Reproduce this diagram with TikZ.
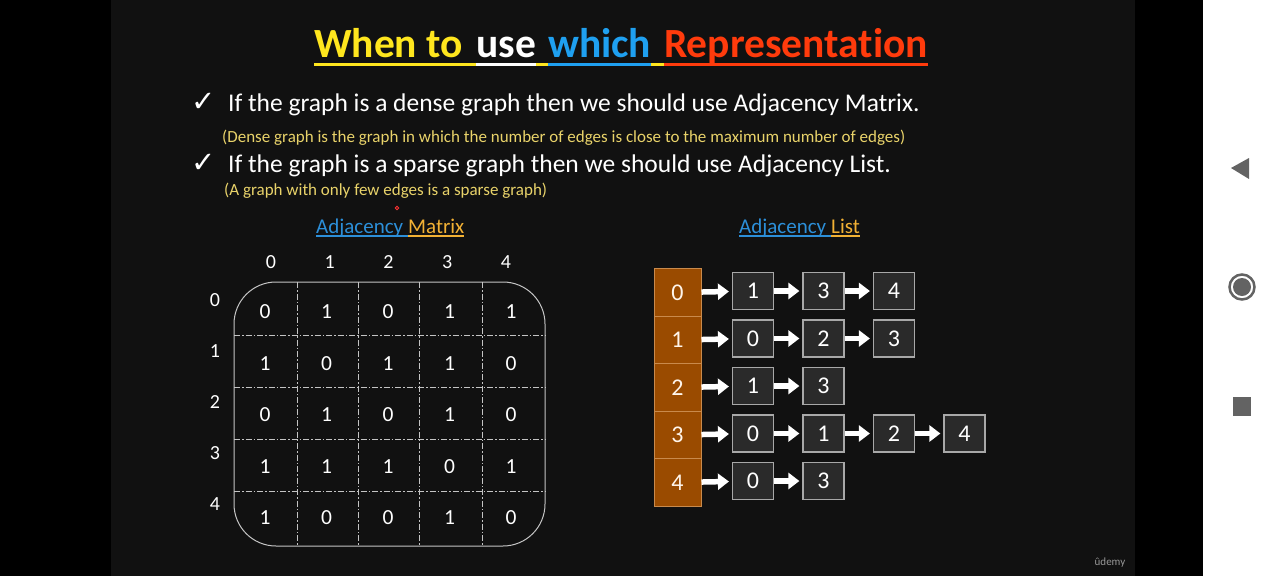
\documentclass[tikz,border=0pt]{standalone}
\usepackage{fontspec}
\setmainfont{Carlito}[Ligatures=NoCommon]
\newfontfamily\symfont{DejaVu Sans}
\usetikzlibrary{arrows.meta,positioning}

\definecolor{slide}{HTML}{111111}
\definecolor{ttyellow}{HTML}{FFE61E}
\definecolor{ttblue}{HTML}{1FA0F0}
\definecolor{ttred}{HTML}{FF3B0C}
\definecolor{noteyellow}{HTML}{E9D36A}
\definecolor{subblue}{HTML}{2C8FD9}
\definecolor{suborange}{HTML}{F2B134}
\definecolor{gridgray}{HTML}{C4C4C4}
\definecolor{headfill}{HTML}{9A4B00}
\definecolor{headedge}{HTML}{C98A4C}
\definecolor{boxfill}{HTML}{2A2A2A}
\definecolor{boxedge}{HTML}{A8A8A8}
\definecolor{navgray}{HTML}{636363}

\tikzset{
  titleword/.style={anchor=base west,inner sep=0pt,font=\fontsize{41.5}{41.5}\selectfont\bfseries},
  bullet/.style={anchor=base west,inner sep=0pt,text=white,font=\fontsize{25.5}{25.5}\selectfont},
  note/.style={anchor=base west,inner sep=0pt,text=noteyellow,font=\fontsize{17}{17}\selectfont},
  tick/.style={inner sep=0pt,text=white,font=\symfont\fontsize{29}{29}\selectfont},
  subhead/.style={anchor=base west,inner sep=0pt,font=\fontsize{21}{21}\selectfont},
  idx/.style={text=white,font=\fontsize{20}{20}\selectfont},
  cellnum/.style={text=white,font=\fontsize{21.5}{21.5}\selectfont},
  headcell/.style={draw=headedge,fill=headfill,line width=1pt,minimum width=47pt,
    minimum height=47.5pt,inner sep=0pt,text=white!92!orange,font=\fontsize{24}{24}\selectfont},
  vertex/.style={draw=boxedge,fill=boxfill,line width=1.2pt,minimum width=41pt,
    minimum height=37pt,inner sep=0pt,text=white,font=\fontsize{24}{24}\selectfont},
  link/.style={white,line width=5.5pt,-{Triangle[length=11pt,width=16pt]},shorten >=3pt}
}

\begin{document}
\begin{tikzpicture}[x=1pt,y=-1pt]
  % screen
  \fill[black] (0,0) rectangle (1280,576);
  \fill[slide] (111,0) rectangle (1135,576);
  \fill[white] (1203,0) rectangle (1280,576);
  \useasboundingbox (0,0) rectangle (1280,576);

  % title
  \node[titleword,text=ttyellow] (t1) at (314,57) {When to};
  \node[titleword,text=white] (t2) at (476,57) {use};
  \node[titleword,text=ttblue] (t3) at (548,57) {which};
  \node[titleword,text=ttred] (t4) at (664,57) {Representation};
  \draw[ttyellow,line width=3pt] (t1.west |- 0,64) -- (t2.west |- 0,64);
  \draw[white,line width=3pt] (t2.west |- 0,64) -- (t2.east |- 0,64);
  \draw[ttyellow,line width=3pt] (t2.east |- 0,64) -- (t3.west |- 0,64);
  \draw[ttblue,line width=3pt] (t3.west |- 0,64) -- (t3.east |- 0,64);
  \draw[ttyellow,line width=3pt] (t3.east |- 0,64) -- (t4.west |- 0,64);
  \draw[ttred,line width=3pt] (t4.west |- 0,64) -- (t4.east |- 0,64);

  % bullets
  \node[tick] (k1) at (204,102) {✓};
  \node[bullet] (b1) at (228,111.5) {If the graph is a dense graph then we should use Adjacency Matrix.};
  \node[note] (n1) at (222,142) {(Dense graph is the graph in which the number of edges is close to the maximum number of edges)};
  \node[tick] (k2) at (204,163) {✓};
  \node[bullet] (b2) at (228,172.5) {If the graph is a sparse graph then we should use Adjacency List.};
  \node[note] (n2) at (224,195) {(A graph with only few edges is a sparse graph)};
  \draw[red!80!white,line width=0.8pt] (397,208) circle (1.8);

  % headings
  \node[subhead,text=subblue] (amA) at (316,233) {Adjacency};
  \node[subhead,text=suborange] (amM) at (408,233) {Matrix};
  \draw[subblue,line width=1.5pt] (amA.west |- 0,236) -- (amM.west |- 0,236);
  \draw[suborange,line width=1.5pt] (amM.west |- 0,236) -- (amM.east |- 0,236);
  \node[subhead,text=subblue] (alA) at (739,233) {Adjacency};
  \node[subhead,text=suborange] (alL) at (831,233) {List};
  \draw[subblue,line width=1.5pt] (alA.west |- 0,236) -- (alL.west |- 0,236);
  \draw[suborange,line width=1.5pt] (alL.west |- 0,236) -- (alL.east |- 0,236);

  % adjacency matrix
  \draw[gridgray,line width=1pt,rounded corners=42pt] (234,282) rectangle (545,546);
  \foreach \x in {297,358,419,482}
    \draw[gridgray,line width=0.9pt,dash pattern=on 6pt off 2pt on 1.5pt off 2pt] (\x,282) -- (\x,546);
  \foreach \y in {335,387,439,491}
    \draw[gridgray,line width=0.9pt,dash pattern=on 6pt off 2pt on 1.5pt off 2pt] (234,\y) -- (545,\y);
  \foreach \i in {0,...,4}{
    \node[idx] (c\i) at ({271+58.75*\i},262) {\i};
    \node[idx] (r\i) at (215,{300+51*\i}) {\i};
  }
  \foreach \vals [count=\r from 0] in {{0,1,0,1,1},{1,0,1,1,0},{0,1,0,1,0},{1,1,1,0,1},{1,0,0,1,0}}
    \foreach \v [count=\c from 0] in \vals
      \node[cellnum] (m-\r-\c) at ({265+61.5*\c},{312+51.5*\r}) {\v};

  % adjacency list
  \foreach \r/\lst in {0/{1,3,4},1/{0,2,3},2/{1,3},3/{0,1,2,4},4/{0,3}}{
    \node[headcell] (h\r) at (677.5,{292.5+47.5*\r}) {\r};
    \foreach \v [count=\k] in \lst {
      \node[vertex] (l\r-\k) at ({753+70.5*(\k-1)},{291+47.5*\r}) {\v};
      \ifnum\k=1
        \draw[link] (h\r) -- (l\r-\k);
      \else
        \pgfmathtruncatemacro\prev{\k-1}
        \draw[link] (l\r-\prev) -- (l\r-\k);
      \fi
    }
  }

  % nav bar
  \fill[navgray] (1231,168) -- (1249,158) -- (1249,179) -- cycle;
  \draw[navgray,line width=2.5pt] (1242,287) circle (12.5);
  \fill[navgray] (1242,287) circle (9);
  \fill[navgray] (1233,397) rectangle (1251,416);

  \node[text=gray!80,font=\fontsize{11}{11}\selectfont] (logo) at (1110,563) {ûdemy};
\end{tikzpicture}
\end{document}
